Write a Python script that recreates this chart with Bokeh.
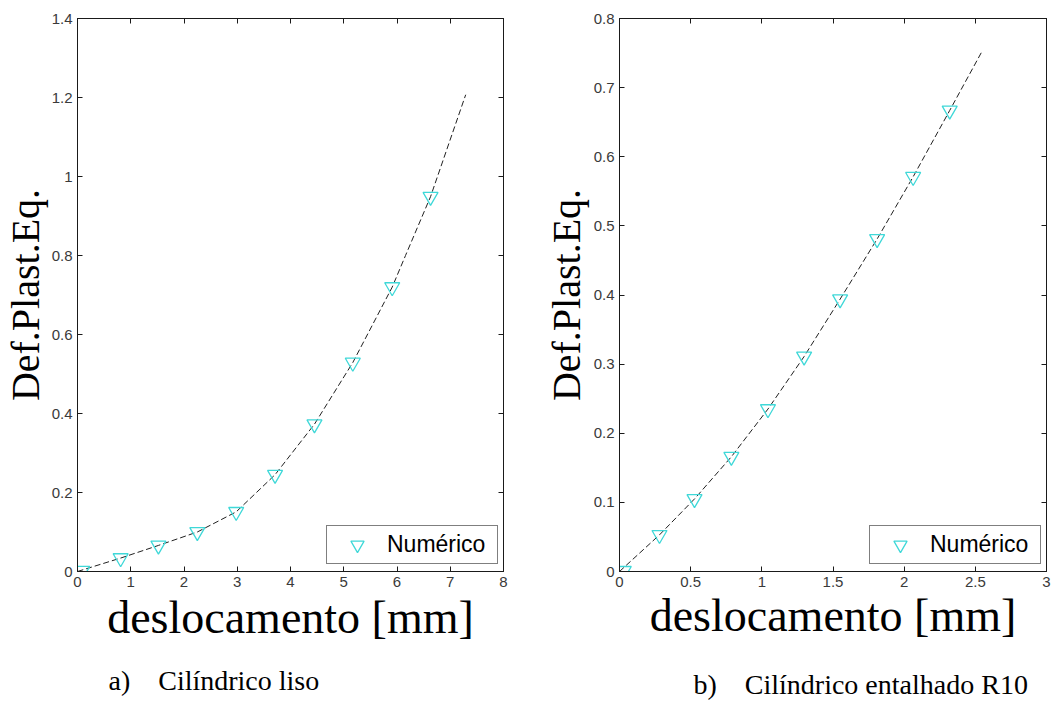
from bokeh.plotting import figure
from bokeh.models import Range1d, LinearAxis, FixedTicker, Legend, LegendItem, Title
from bokeh.layouts import row
from bokeh.embed import file_html
from bokeh.resources import INLINE

# ---------------- data: panel a) Cilíndrico liso ----------------
a_marker_x = [0.09, 0.81, 1.52, 2.25, 2.98, 3.71, 4.45, 5.17, 5.91, 6.63]
a_marker_y = [0.002, 0.034, 0.066, 0.100, 0.151, 0.245, 0.373, 0.529, 0.720, 0.949]
a_line_x = [0.0, 0.81, 1.52, 2.25, 2.98, 3.71, 4.45, 5.17, 5.91, 6.16, 6.63, 7.29]
a_line_y = [0.0, 0.034, 0.066, 0.100, 0.151, 0.245, 0.373, 0.529, 0.720, 0.800, 0.949, 1.207]
a_xticks = [0, 1, 2, 3, 4, 5, 6, 7, 8]
a_xtick_labels = ["0", "1", "2", "3", "4", "5", "6", "7", "8"]
a_yticks = [0, 0.2, 0.4, 0.6, 0.8, 1.0, 1.2, 1.4]
a_ytick_labels = ["0", "0.2", "0.4", "0.6", "0.8", "1", "1.2", "1.4"]

# ---------------- data: panel b) Cilíndrico entalhado R10 ----------------
b_marker_x = [0.03, 0.281, 0.527, 0.786, 1.043, 1.297, 1.55, 1.81, 2.063, 2.32]
b_marker_y = [0.001, 0.053, 0.105, 0.166, 0.235, 0.311, 0.394, 0.481, 0.571, 0.667]
b_line_x = [0.0, 0.281, 0.527, 0.786, 1.043, 1.297, 1.55, 1.81, 2.063, 2.32, 2.543]
b_line_y = [0.0, 0.053, 0.105, 0.166, 0.235, 0.311, 0.394, 0.481, 0.571, 0.667, 0.751]
b_xticks = [0, 0.5, 1.0, 1.5, 2.0, 2.5, 3.0]
b_xtick_labels = ["0", "0.5", "1", "1.5", "2", "2.5", "3"]
b_yticks = [0, 0.1, 0.2, 0.3, 0.4, 0.5, 0.6, 0.7, 0.8]
b_ytick_labels = ["0", "0.1", "0.2", "0.3", "0.4", "0.5", "0.6", "0.7", "0.8"]

series_label = "Numérico"
x_title = "deslocamento [mm]"
y_title = "Def.Plast.Eq."
caption_a = "a)\u00a0\u00a0\u00a0\u00a0Cilíndrico liso"
caption_b = "b)\u00a0\u00a0\u00a0\u00a0Cilíndrico entalhado R10"

AXC = "#1a1a1a"
TICKC = "#3a3a3a"
CYAN = "#3fd8d8"
H = 701


def style_axis(ax, ticks, labels, show):
    ax.ticker = FixedTicker(ticks=ticks)
    ax.axis_line_color = AXC
    ax.major_tick_line_color = AXC
    ax.major_tick_in = 5
    ax.major_tick_out = 0
    ax.minor_tick_in = 0
    ax.minor_tick_out = 0
    if show:
        ax.major_label_overrides = {t: l for t, l in zip(ticks, labels)}
        ax.major_label_text_font = "Liberation Sans"
        ax.major_label_text_font_size = "15px"
        ax.major_label_text_color = TICKC
        ax.major_label_standoff = 5
    else:
        ax.major_label_overrides = {t: "" for t in ticks}
        ax.major_label_text_font_size = "0px"
        ax.major_label_standoff = 0


def make_panel(width, borders, xr, yr, xt, xtl, yt, ytl, mx, my, lx, ly,
               legend_loc, xlab_standoff, ylab_standoff, gap, caption, cap_offset):
    bl, br, bt, bb = borders
    p = figure(width=width, height=H, x_range=Range1d(*xr), y_range=Range1d(*yr),
               output_backend="svg", toolbar_location=None,
               x_axis_location=None, y_axis_location=None,
               min_border_left=bl, min_border_right=br,
               min_border_top=bt, min_border_bottom=bb)
    p.grid.visible = False
    p.background_fill_color = "white"
    p.border_fill_color = "white"
    p.outline_line_color = AXC

    for loc, ticks, labels, show in [("below", xt, xtl, True), ("left", yt, ytl, True),
                                     ("above", xt, xtl, False), ("right", yt, ytl, False)]:
        ax = LinearAxis()
        style_axis(ax, ticks, labels, show)
        if loc == "below":
            ax.axis_label = x_title
            ax.axis_label_text_font = "Liberation Serif"
            ax.axis_label_text_font_size = "46px"
            ax.axis_label_text_font_style = "normal"
            ax.axis_label_text_color = "black"
            ax.axis_label_standoff = xlab_standoff
        p.add_layout(ax, loc)

    # y-axis title as a side title (centred on the frame)
    p.add_layout(Title(text=y_title, align="center", standoff=ylab_standoff,
                       vertical_align="bottom",
                       text_font="Liberation Serif", text_font_size="40px",
                       text_font_style="normal", text_color="black"), "left")

    # blank spacer band between the x-axis title and the caption
    # (a single white tick on white background, no label text)
    spacer = LinearAxis(ticker=FixedTicker(ticks=[xr[0]]), axis_line_color=None,
                        major_tick_line_color="white", minor_tick_line_color=None,
                        major_tick_in=0, major_tick_out=gap, minor_tick_in=0,
                        minor_tick_out=0, major_label_standoff=0,
                        major_label_overrides={xr[0]: ""},
                        major_label_text_font_size="0px")
    p.add_layout(spacer, "below")

    p.add_layout(Title(text=caption, align="left", offset=cap_offset, standoff=4,
                       vertical_align="bottom",
                       text_font="Liberation Serif", text_font_size="28px",
                       text_font_style="normal", text_color="black"), "below")

    p.line(lx, ly, line_color="#202020", line_width=1, line_dash="6 3")
    r = p.scatter(mx, my, marker="inverted_triangle", size=15, fill_color=None,
                  line_color=CYAN, line_width=1.3)

    leg = Legend(items=[LegendItem(label=series_label, renderers=[r])],
                 location=legend_loc, border_line_color="black", border_line_width=1,
                 background_fill_color="white", background_fill_alpha=1.0,
                 label_text_font="Liberation Sans", label_text_font_size="23px",
                 label_text_color="black",
                 glyph_width=56, glyph_height=33, padding=2, spacing=0,
                 label_standoff=2, label_width=108, margin=0)
    p.add_layout(leg)
    return p


pa = make_panel(531, (77, 28, 18, 127), (0, 8), (0, 1.4),
                a_xticks, a_xtick_labels, a_yticks, a_ytick_labels,
                a_marker_x, a_marker_y, a_line_x, a_line_y,
                (249, 7), 2, 1, 15, caption_a, 31)

pb = make_panel(531, (88, 16, 14, 130), (0, 3), (0, 0.8),
                b_xticks, b_xtick_labels, b_yticks, b_ytick_labels,
                b_marker_x, b_marker_y, b_line_x, b_line_y,
                (250, 7), 0, 3, 21, caption_b, 74)

layout = row(pa, pb, spacing=0)
open("out.html", "w").write(file_html(layout, INLINE))
